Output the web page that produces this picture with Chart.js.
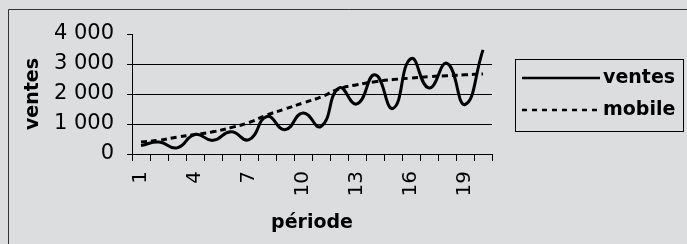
<!DOCTYPE html>
<html>
<head>
<meta charset="utf-8">
<script src="https://cdn.jsdelivr.net/npm/chart.js@4/dist/chart.umd.min.js"></script>
<style>
  html, body { margin: 0; padding: 0; background: #dcdddf; }
  canvas { display: block; }
</style>
</head>
<body>
<canvas id="c" width="687" height="244"></canvas>
<script>
const categories = ['1','2','3','4','5','6','7','8','9','10','11','12','13','14','15','16','17','18','19','20'];
const ventes = [280, 400, 205, 650, 455, 740, 480, 1250, 810, 1370, 920, 2200, 1670, 2640, 1520, 3180, 2200, 3020, 1650, 3470];
const mobile = [400, 460, 560, 650, 740, 880, 1050, 1300, 1500, 1700, 1900, 2170, 2310, 2410, 2480, 2530, 2580, 2610, 2640, 2670];
const seriesNames = ['ventes', 'mobile'];
const yTicks = [0, 1000, 2000, 3000, 4000];
const axisTitles = { x: 'période', y: 'ventes' };

const BG = '#dcdddf';
const FONT = 'DejaVu Sans';

function fmt(v) {
  return String(v).replace(/\B(?=(\d{3})+(?!\d))/g, ' ');
}

const bgPlugin = {
  id: 'bg',
  beforeDraw(chart) {
    const ctx = chart.ctx;
    ctx.save();
    ctx.fillStyle = BG;
    ctx.fillRect(0, 0, chart.width, chart.height);
    ctx.strokeStyle = '#333';
    ctx.lineWidth = 1;
    ctx.beginPath();
    ctx.moveTo(8.5, chart.height + 5);
    ctx.lineTo(8.5, 9.5);
    ctx.lineTo(chart.width + 5, 9.5);
    ctx.stroke();
    ctx.restore();
  }
};

const legendPlugin = {
  id: 'boxLegend',
  afterDraw(chart) {
    const ctx = chart.ctx;
    ctx.save();
    const x0 = 515.5, y0 = 59.5, w = 168, h = 72;
    ctx.strokeStyle = '#000';
    ctx.lineWidth = 1;
    ctx.strokeRect(x0, y0, w, h);
    const rows = [78, 110];
    chart.data.datasets.forEach((ds, i) => {
      const y = rows[i];
      ctx.beginPath();
      ctx.strokeStyle = ds.borderColor;
      ctx.lineWidth = 2.5;
      ctx.setLineDash(i === 0 ? [] : [5, 5]);
      ctx.moveTo(522, y);
      ctx.lineTo(600, y);
      ctx.stroke();
      ctx.setLineDash([]);
      ctx.fillStyle = '#000';
      ctx.font = 'bold 19px "' + FONT + '"';
      ctx.textAlign = 'left';
      ctx.textBaseline = 'middle';
      ctx.fillText(ds.label, 603, y);
    });
    ctx.restore();
  }
};

new Chart(document.getElementById('c'), {
  type: 'line',
  data: {
    labels: categories,
    datasets: [
      {
        label: seriesNames[0],
        data: ventes,
        borderColor: '#000',
        borderWidth: 3,
        pointRadius: 0,
        tension: 0.5,
        fill: false
      },
      {
        label: seriesNames[1],
        data: mobile,
        borderColor: '#000',
        borderWidth: 3,
        borderDash: [6, 4],
        pointRadius: 0,
        tension: 0.5,
        fill: false
      }
    ]
  },
  options: {
    responsive: false,
    animation: false,
    devicePixelRatio: 1,
    layout: { padding: { left: 0, right: 195, top: 34, bottom: 0 } },
    plugins: {
      legend: { display: false },
      tooltip: { enabled: false }
    },
    scales: {
      x: {
        type: 'category',
        offset: true,
        afterFit(s) { s.height = 90; },
        grid: {
          offset: true,
          drawOnChartArea: false,
          drawTicks: true,
          tickLength: 7,
          color: '#000',
          tickColor: '#000',
          lineWidth: 1
        },
        border: { display: true, color: '#000', width: 1 },
        ticks: {
          autoSkip: false,
          minRotation: 90,
          maxRotation: 90,
          padding: 10,
          color: '#000',
          font: { family: FONT, size: 20 },
          callback(val, idx) { return idx % 3 === 0 ? categories[idx] : ''; }
        },
        title: {
          display: true,
          text: axisTitles.x,
          color: '#000',
          font: { family: FONT, size: 19, weight: 'bold' },
          padding: { top: 0, bottom: 10 }
        }
      },
      y: {
        min: yTicks[0],
        max: yTicks[yTicks.length - 1],
        afterFit(s) { s.width = 132; },
        afterBuildTicks(s) { s.ticks = yTicks.map(v => ({ value: v })); },
        grid: {
          color(ctx) { return (ctx.tick && (ctx.tick.value === 4000 || ctx.tick.value === 0)) ? 'rgba(0,0,0,0)' : '#000'; },
          tickColor: '#000',
          tickLength: 5,
          lineWidth: 1
        },
        border: { display: true, color: '#000', width: 1 },
        ticks: {
          padding: 13,
          color: '#000',
          font: { family: FONT, size: 21 },
          callback(v) { return fmt(v); }
        },
        title: {
          display: true,
          text: axisTitles.y,
          color: '#000',
          font: { family: FONT, size: 19, weight: 'bold' },
          padding: { top: 22, bottom: 0 }
        }
      }
    }
  },
  plugins: [bgPlugin, legendPlugin]
});
</script>
</body>
</html>
